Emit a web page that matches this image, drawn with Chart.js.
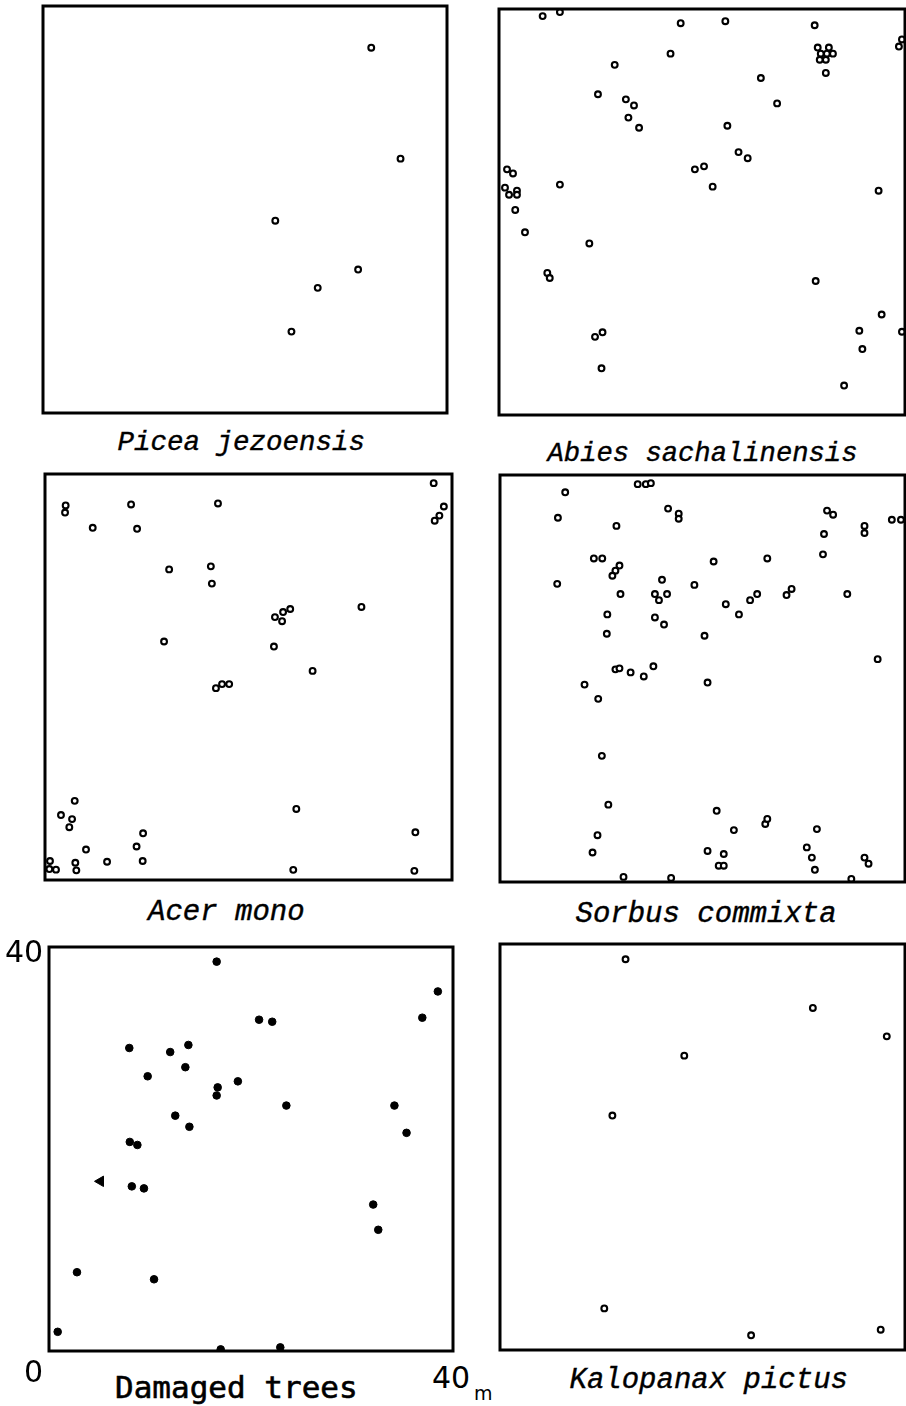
<!DOCTYPE html>
<html>
<head>
<meta charset="utf-8">
<script src="https://cdn.jsdelivr.net/npm/chart.js@4.4.1/dist/chart.umd.min.js"></script>
<style>
  html, body { margin: 0; padding: 0; background: #fff; }
  body { position: relative; width: 906px; height: 1406px; overflow: hidden; }
  canvas { position: absolute; }
  .lbl { position: absolute; top: 0; left: 0; white-space: nowrap; color: #000; line-height: 1; }
</style>
</head>
<body>
<script>
// Tree positions in a 40 m x 40 m plot, [x m, y m]
const piceaJezoensis = [
  [32.5, 35.9], [35.4, 25.0], [23.0, 18.9], [31.2, 14.1], [27.2, 12.3], [24.6, 8.0]
];

const abiesSachalinensis = [
  [4.3, 39.3], [6.0, 39.7], [17.9, 38.6], [22.3, 38.8], [31.1, 38.4],
  [31.4, 36.2], [32.5, 36.2], [31.7, 35.6], [32.3, 35.6], [32.9, 35.6], [31.6, 35.0], [32.2, 35.0], [32.2, 33.7],
  [39.7, 37.0], [39.4, 36.3],
  [16.9, 35.6], [11.4, 34.5], [25.8, 33.2], [9.75, 31.6], [12.5, 31.1], [13.3, 30.5], [27.4, 30.7],
  [12.75, 29.3], [13.8, 28.3], [22.5, 28.5], [23.6, 25.9], [24.5, 25.3], [20.2, 24.5], [19.3, 24.2],
  [21.05, 22.5], [37.4, 22.1],
  [0.79, 24.2], [1.38, 23.8], [0.59, 22.4], [0.99, 21.7], [1.77, 22.1], [1.77, 21.7], [1.6, 20.2], [2.56, 18.0],
  [6.0, 22.7], [8.9, 16.9], [4.76, 14.0], [5.0, 13.5], [9.46, 7.7], [10.2, 8.15], [10.1, 4.6],
  [31.2, 13.2], [37.7, 9.9], [35.5, 8.3], [39.7, 8.2], [35.8, 6.5], [34.0, 2.9]
];

const acerMono = [
  [2.03, 36.9], [1.97, 36.2], [8.46, 37.0], [17.0, 37.1], [4.69, 34.7], [9.05, 34.6],
  [38.2, 39.1], [39.2, 36.8], [38.76, 35.9], [38.3, 35.4],
  [12.2, 30.6], [16.3, 30.9], [16.4, 29.2],
  [22.6, 25.9], [23.4, 26.4], [24.1, 26.7], [23.3, 25.5],
  [31.1, 26.9], [11.7, 23.5], [22.5, 23.0], [26.3, 20.6], [16.8, 18.9], [17.4, 19.3], [18.1, 19.3],
  [2.92, 7.8], [1.57, 6.4], [2.66, 6.0], [2.39, 5.2], [9.64, 4.6], [9.0, 3.3], [4.03, 3.0],
  [0.49, 1.87], [0.43, 1.08], [1.08, 1.02], [2.98, 1.7], [3.08, 0.95], [6.1, 1.8], [9.6, 1.87],
  [24.7, 7.0], [24.4, 1.0], [36.4, 4.7], [36.3, 0.9]
];

const sorbusCommixta = [
  [13.6, 39.1], [14.4, 39.1], [14.9, 39.2], [6.44, 38.3], [5.72, 35.8], [11.5, 35.0], [16.6, 36.7],
  [17.65, 36.2], [17.65, 35.7], [32.3, 36.5], [32.9, 36.1], [32.0, 34.2], [36.0, 35.0], [36.0, 34.3],
  [38.7, 35.6], [39.6, 35.6], [31.9, 32.2], [9.27, 31.8], [10.1, 31.8], [21.1, 31.5], [26.4, 31.8],
  [11.8, 31.1], [11.4, 30.6], [11.1, 30.1], [5.65, 29.3], [16.0, 29.7], [19.2, 29.2], [11.9, 28.3],
  [15.3, 28.3], [15.7, 27.7], [16.5, 28.3], [22.3, 27.3], [24.7, 27.7], [25.4, 28.3], [28.3, 28.2],
  [28.8, 28.8], [34.3, 28.3], [10.6, 26.3], [15.3, 26.0], [16.2, 25.3], [23.6, 26.3], [10.55, 24.4],
  [20.2, 24.2], [37.3, 21.9], [11.4, 20.9], [11.8, 21.0], [12.9, 20.6], [14.2, 20.2], [15.15, 21.2],
  [8.35, 19.4], [20.5, 19.6], [9.7, 18.0], [10.06, 12.4], [10.7, 7.6], [9.63, 4.6], [9.14, 2.9],
  [12.2, 0.5], [16.9, 0.4], [21.4, 7.0], [23.1, 5.1], [26.2, 5.7], [26.4, 6.2], [20.5, 3.05],
  [22.1, 2.75], [21.6, 1.6], [22.1, 1.6], [31.3, 5.2], [30.3, 3.4], [30.8, 2.4], [31.1, 1.2],
  [36.0, 2.4], [36.4, 1.8], [34.7, 0.3]
];

const damagedTrees = [
  [16.6, 38.55], [38.5, 35.6], [36.96, 33.0], [20.8, 32.8], [22.1, 32.6], [7.95, 30.0], [12.0, 29.6],
  [13.8, 30.3], [13.5, 28.1], [9.77, 27.2], [18.7, 26.7], [16.7, 26.1], [16.6, 25.3], [23.5, 24.3],
  [34.2, 24.3], [12.5, 23.3], [13.9, 22.2], [35.4, 21.6], [8.0, 20.7], [8.75, 20.4], [8.2, 16.3],
  [9.4, 16.1], [32.1, 14.5], [32.6, 12.0], [2.77, 7.8], [10.4, 7.1], [0.86, 1.9], [17.0, 0.16], [22.9, 0.36]
];
const damagedSpecial = [[5.1, 16.8]];

const kalopanaxPictus = [
  [12.4, 38.5], [30.9, 33.7], [38.2, 30.9], [18.2, 29.0], [11.1, 23.1], [10.3, 4.1], [24.8, 1.45], [37.6, 2.0]
];

const plotExtent = [0, 40];
const plotTicks = ['0', '40'];
const plotUnit = 'm';

// Panel frames on the page: left, top, right, bottom (px)
const PAD = 8;
const panels = [
  { name: 'Picea jezoensis',     pts: piceaJezoensis,     box: [43, 6, 447, 413],    cap: { x: 241.5, base: 450, size: 27.5 } },
  { name: 'Abies sachalinensis', pts: abiesSachalinensis, box: [499, 9, 905, 415],   cap: { x: 702.5, base: 461, size: 27.2 } },
  { name: 'Acer mono',           pts: acerMono,           box: [45, 474, 452, 880],  cap: { x: 226.5, base: 920, size: 29 } },
  { name: 'Sorbus commixta',     pts: sorbusCommixta,     box: [500, 475, 905, 882], cap: { x: 706, base: 922, size: 29 } },
  { name: 'Damaged trees',       pts: damagedTrees,       box: [49, 947, 453, 1351], cap: { x: 236.5, base: 1398, size: 31 }, filled: true },
  { name: 'Kalopanax pictus',    pts: kalopanaxPictus,    box: [500, 944, 905, 1350], cap: { x: 708.5, base: 1388, size: 29 } }
];

const framePlugin = {
  id: 'plotFrame',
  afterDatasetsDraw(chart) {
    const { ctx, chartArea: a } = chart;
    ctx.save();
    ctx.lineWidth = 3;
    ctx.strokeStyle = '#000';
    ctx.strokeRect(a.left, a.top, a.right - a.left, a.bottom - a.top);
    ctx.restore();
  }
};

function toXY(arr) { return arr.map(p => ({ x: p[0], y: p[1] })); }

function label(text, x, baseline, style, align) {
  const d = document.createElement('div');
  d.className = 'lbl';
  Object.assign(d.style, style);
  d.appendChild(document.createTextNode(text));
  const m = document.createElement('span');
  m.style.display = 'inline-block';
  m.style.width = '0';
  m.style.height = '0';
  d.appendChild(m);
  document.body.appendChild(d);
  const base = m.offsetTop;
  const w = d.offsetWidth;
  d.style.top = (baseline - base) + 'px';
  d.style.left = (align === 'center' ? x - w / 2 : align === 'right' ? x - w : x) + 'px';
}

panels.forEach(p => {
  const [l, t, r, b] = p.box;
  const cv = document.createElement('canvas');
  cv.width = (r - l) + 2 * PAD;
  cv.height = (b - t) + 2 * PAD;
  cv.style.left = (l - PAD) + 'px';
  cv.style.top = (t - PAD) + 'px';
  document.body.appendChild(cv);

  const datasets = [{
    data: toXY(p.pts),
    pointStyle: 'circle',
    pointRadius: p.filled ? 3.8 : 2.9,
    borderWidth: p.filled ? 1 : 2.1,
    borderColor: '#000',
    backgroundColor: p.filled ? '#000' : '#fff',
    clip: 1
  }];
  if (p.filled) {
    datasets.push({
      data: toXY(damagedSpecial),
      pointStyle: 'triangle',
      rotation: -90,
      pointRadius: 6,
      borderWidth: 1,
      borderColor: '#000',
      backgroundColor: '#000',
      clip: 1
    });
  }

  new Chart(cv, {
    type: 'scatter',
    data: { datasets },
    options: {
      responsive: false,
      animation: false,
      layout: { padding: PAD },
      scales: {
        x: { type: 'linear', min: plotExtent[0], max: plotExtent[1], display: false },
        y: { type: 'linear', min: plotExtent[0], max: plotExtent[1], display: false }
      },
      plugins: { legend: { display: false }, tooltip: { enabled: false } }
    },
    plugins: [framePlugin]
  });

  const upright = p.filled;
  label(p.name, p.cap.x, p.cap.base, {
    fontFamily: upright ? '"DejaVu Sans Mono", monospace' : '"Liberation Mono", monospace',
    fontStyle: upright ? 'normal' : 'italic',
    fontWeight: 'normal',
    fontSize: p.cap.size + 'px',
    webkitTextStroke: upright ? '0.6px #000' : '0.4px #000'
  }, 'center');
});

// Scale labels of the lower-left plot
const numFont = { fontFamily: '"DejaVu Sans", sans-serif', fontSize: '30px' };
label(plotTicks[1], 43, 962, numFont, 'right');
label(plotTicks[0], 43, 1382, numFont, 'right');
label(plotTicks[1], 470, 1388, numFont, 'right');
label(plotUnit, 474, 1400, { fontFamily: '"DejaVu Sans", sans-serif', fontSize: '19px' }, 'left');
</script>
</body>
</html>
